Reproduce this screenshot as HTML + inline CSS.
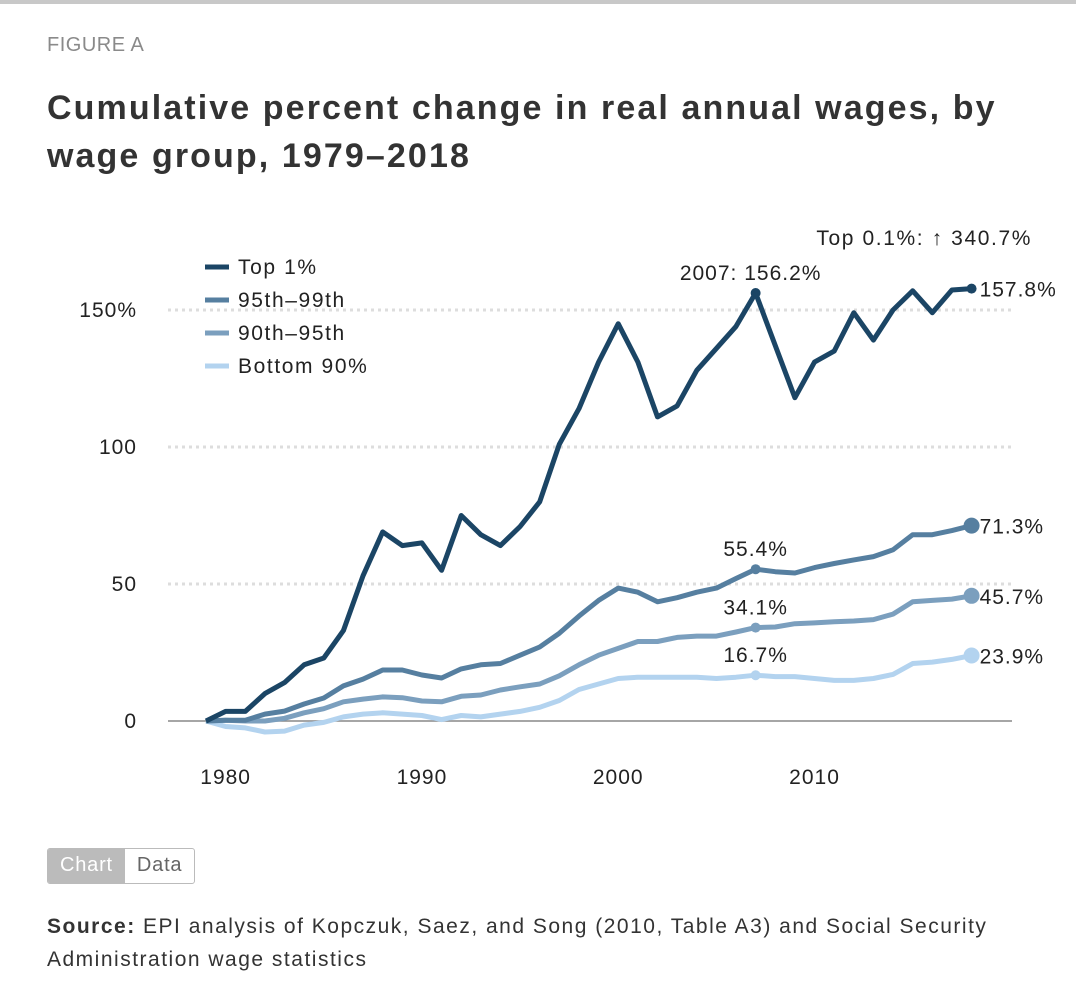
<!DOCTYPE html>
<html><head><meta charset="utf-8"><style>
body{margin:0;width:1076px;height:988px;background:#fff;font-family:"Liberation Sans",Arial,sans-serif;position:relative;overflow:hidden}
.topbar{position:absolute;left:0;top:0;width:1076px;height:4px;background:#c8c8c8}
.fig{position:absolute;left:47px;top:34px;font-size:20px;color:#8a8a8a;letter-spacing:0.5px}
.title{position:absolute;left:47px;top:84px;font-size:34px;font-weight:bold;color:#333;line-height:48px;width:1020px;letter-spacing:2.1px}
svg{position:absolute;left:0;top:0}
.btns{position:absolute;left:47px;top:848px;display:flex;border:1px solid #bbb;border-radius:3px;overflow:hidden;font-size:20px;height:34px}
.btns div{padding:5px 12px 0 12px;letter-spacing:0.8px}
.src{position:absolute;left:47px;top:910px;font-size:21px;color:#333;line-height:33px;width:985px;letter-spacing:1.5px}
</style></head><body>
<div class="topbar"></div>
<div class="fig">FIGURE A</div>
<div class="title">Cumulative percent change in real annual wages, by<br>wage group, 1979–2018</div>
<svg id="chart" width="1076" height="988"></svg>
<div class="btns">
<div style="background:#bbb;color:#fff">Chart</div>
<div style="color:#666">Data</div></div>
<div class="src"><b>Source:</b> EPI analysis of Kopczuk, Saez, and Song (2010, Table A3) and Social Security Administration wage statistics</div>
<script>
const years=[];for(let y=1979;y<=2018;y++)years.push(y);
const top1=[0,3.5,3.5,10,14,20.5,23,33,53,69,64,65,55,75,68,64,71,80,101,114,131,145,131,111,115,128,136,144,156.2,137,118,131,135,149,139,150,157,149,157.3,157.8];
const p95_99=[0,0.3,0.3,2.5,3.6,6.2,8.4,12.8,15.3,18.6,18.6,16.8,15.7,19,20.5,21,24,27,32,38.3,44,48.5,47,43.5,45,47,48.5,52,55.4,54.5,54,56,57.5,58.8,60,62.5,68,68,69.5,71.3];
const p90_95=[0,0.3,0,0,1,3,4.5,7,8,8.8,8.5,7.3,7,9,9.5,11.3,12.5,13.5,16.5,20.5,24,26.5,29,29,30.5,31,31,32.5,34.1,34.3,35.5,35.8,36.2,36.5,37,39,43.5,44,44.5,45.7];
const bot90=[0,-2,-2.5,-4,-3.7,-1.5,-0.5,1.5,2.5,3,2.5,2,0.5,2,1.5,2.5,3.5,5,7.5,11.5,13.5,15.5,16,16,16,16,15.5,16,16.7,16.2,16.2,15.5,14.8,14.8,15.5,17,21,21.5,22.5,23.9];
const yTicks=[0,50,100,150];const yTickLabels=["0","50","100","150%"];
const xTicks=[1980,1990,2000,2010];
const seriesNames=["Top 1%","95th–99th","90th–95th","Bottom 90%"];
const colors=["#1b4565","#567fa0","#7b9fbe","#b3d3ef"];
const endLabels=["157.8%","71.3%","45.7%","23.9%"];
const midLabels=["2007: 156.2%","55.4%","34.1%","16.7%"];
const X=y=>206+(y-1979)*19.63, Y=v=>721-v*2.74;
const svg=document.getElementById('chart');const NS="http://www.w3.org/2000/svg";
function el(t,a){const e=document.createElementNS(NS,t);for(const k in a)e.setAttribute(k,a[k]);svg.appendChild(e);return e;}
function txt(x,y,s,anchor,size,name,ls){const t=el('text',{x:x,y:y,'font-size':size||21,fill:'#222','text-anchor':anchor||'start','letter-spacing':(ls===undefined?1.0:ls),'font-family':'Liberation Sans, Arial, sans-serif'});t.textContent=s;

return t;}
yTicks.forEach((v,i)=>{
 if(v>0){const g=el('line',{x1:168,x2:1012,y1:Y(v),y2:Y(v),stroke:'#ddd','stroke-width':3,'stroke-dasharray':'3,4'});
 
 }
 txt(137,Y(v)+7,yTickLabels[i],'end',21,'y-tick-label');
});
const z=el('line',{x1:168,x2:1012,y1:Y(0),y2:Y(0),stroke:'#888','stroke-width':1.5});


xTicks.forEach(y=>{txt(X(y),784,String(y),'middle',21,'x-tick-label');});
const all=[top1,p95_99,p90_95,bot90];
for(let s=3;s>=0;s--){
 const d=all[s].map((v,i)=>(i?'L':'M')+X(years[i]).toFixed(1)+','+Y(v).toFixed(1)).join('');
 const p=el('path',{d:d,fill:'none',stroke:colors[s],'stroke-width':5,'stroke-linejoin':'round'});
 
 
 const i7=years.indexOf(2007);
 const c=el('circle',{cx:X(2007),cy:Y(all[s][i7]),r:5,fill:colors[s]});
 
 
 const last=all[s].length-1;
 const c2=el('circle',{cx:X(2018),cy:Y(all[s][last]),r:s?8:5,fill:colors[s]});
 
 
 txt(X(2018)+8,Y(all[s][last])+8,endLabels[s],'start',21,'end-value-label');
 txt(s?X(2007):X(2007)-5,Y(all[s][i7])-13,midLabels[s],'middle',21,'annotation-2007');
}
txt(1032,245,"Top 0.1%: ↑ 340.7%",'end',21,'top-0.1-note',1.6);
seriesNames.forEach((n,i)=>{
 const l=el('line',{x1:205,x2:229,y1:267+i*33,y2:267+i*33,stroke:colors[i],'stroke-width':5});
 
 
 txt(238,274+i*33,n,'start',21,'legend-entry',1.6);
});
</script>
</body></html>
